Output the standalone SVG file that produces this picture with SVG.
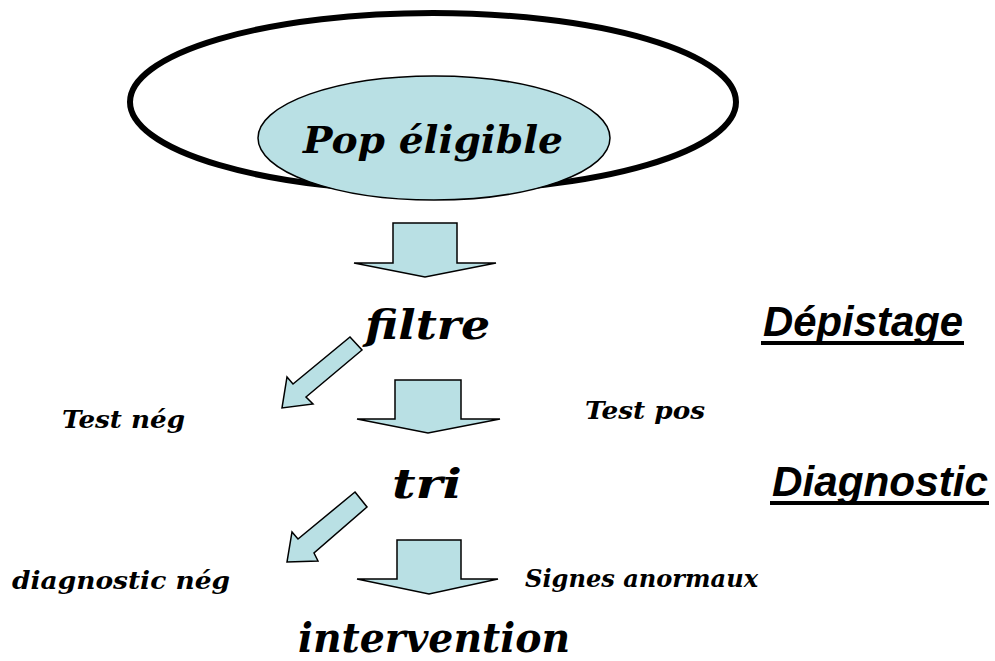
<svg xmlns="http://www.w3.org/2000/svg" width="995" height="661" viewBox="0 0 995 661">
  <style>
    .shape { fill: #b9e0e4; stroke: #000; stroke-width: 1.5; stroke-linejoin: miter; }
    .serif { font-family: "DejaVu Serif", "Liberation Serif", serif; font-weight: bold; font-style: italic; fill: #000; }
    .big { font-size: 41px; }
    .small { font-size: 24px; }
    .heading { font-family: "Liberation Sans", Arial, sans-serif; font-weight: bold; font-style: italic; font-size: 42px; fill: #000; }
  </style>
  <rect width="995" height="661" fill="#fff"/>

  <g id="population">
    <ellipse cx="433" cy="102" rx="303" ry="89" fill="none" stroke="#000" stroke-width="6"/>
    <ellipse class="shape" cx="434" cy="138" rx="176" ry="62"/>
    <text class="serif" x="303" y="153" font-size="38" textLength="260" lengthAdjust="spacingAndGlyphs">Pop éligible</text>
  </g>

  <g id="connectors">
    <polygon class="shape" points="393,223 457,223 457,263 496,263 425,277 354,263 393,263"/>
    <polygon class="shape" points="350,337 362,350 306,397 313,404 282,408 287,377 293,384"/>
    <polygon class="shape" points="395,380 461,380 461,419 500,419 428,433 357,419 395,419"/>
    <polygon class="shape" points="355,492 367,507 314,553 318,561 287,562 292,532 298,539"/>
    <polygon class="shape" points="397,540 461,540 461,579 498,579 429,594 357,579 397,579"/>
  </g>

  <g id="filtre">
    <text class="serif big" x="365" y="339" textLength="125" lengthAdjust="spacingAndGlyphs">filtre</text>
  </g>
  <g id="test-neg">
    <text class="serif small" x="62" y="428" textLength="123" lengthAdjust="spacingAndGlyphs">Test nég</text>
  </g>
  <g id="test-pos">
    <text class="serif small" x="585" y="419" textLength="120" lengthAdjust="spacingAndGlyphs">Test pos</text>
  </g>
  <g id="tri">
    <text class="serif big" x="392" y="498" textLength="70" lengthAdjust="spacingAndGlyphs">tri</text>
  </g>
  <g id="diagnostic-neg">
    <text class="serif small" x="12" y="589" textLength="218" lengthAdjust="spacingAndGlyphs">diagnostic nég</text>
  </g>
  <g id="signes-anormaux">
    <text class="serif small" x="525" y="587" textLength="233" lengthAdjust="spacingAndGlyphs">Signes anormaux</text>
  </g>
  <g id="intervention">
    <text class="serif big" x="298" y="652" textLength="272" lengthAdjust="spacingAndGlyphs">intervention</text>
  </g>

  <g id="depistage">
    <text class="heading" x="763" y="336" textLength="200" lengthAdjust="spacingAndGlyphs">Dépistage</text>
    <rect x="761" y="341" width="203" height="4" fill="#000"/>
  </g>
  <g id="diagnostic">
    <text class="heading" x="772" y="496" textLength="216" lengthAdjust="spacingAndGlyphs">Diagnostic</text>
    <rect x="770" y="501" width="219" height="4" fill="#000"/>
  </g>
</svg>
